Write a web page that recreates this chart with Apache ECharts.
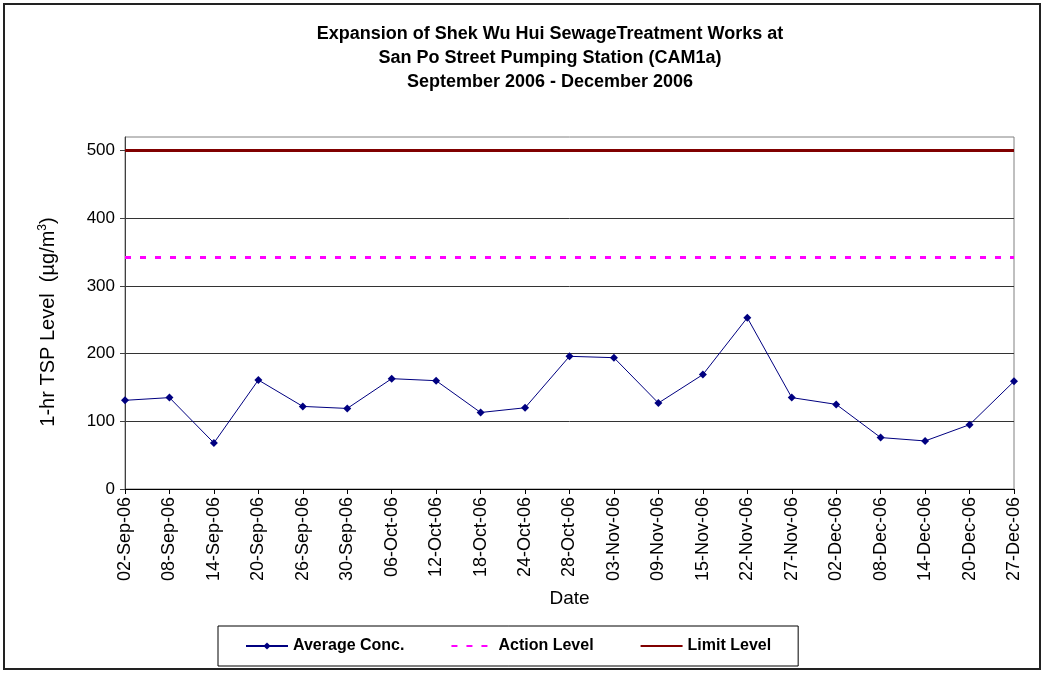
<!DOCTYPE html>
<html>
<head>
<meta charset="utf-8">
<title>CAM1a 1-hr TSP</title>
<script src="https://cdn.jsdelivr.net/npm/echarts@6.0.0/dist/echarts.min.js"></script>
<style>
  html, body { margin: 0; padding: 0; background: #fff; }
  #main { width: 1045px; height: 673px; }
</style>
</head>
<body>
<div id="main"></div>
<script>
// sampling dates
var dates = ['02-Sep-06', '08-Sep-06', '14-Sep-06', '20-Sep-06', '26-Sep-06', '30-Sep-06',
    '06-Oct-06', '12-Oct-06', '18-Oct-06', '24-Oct-06', '28-Oct-06', '03-Nov-06',
    '09-Nov-06', '15-Nov-06', '22-Nov-06', '27-Nov-06', '02-Dec-06', '08-Dec-06',
    '14-Dec-06', '20-Dec-06', '27-Dec-06'];

// 1-hr TSP average (ug/m3)
var averageConc = [131, 135, 68, 161, 122, 119, 163, 160, 113, 120, 196, 194,
    127, 169, 253, 135, 125, 76, 71, 95, 159];

// action / limit levels
var actionLevel = [342, 342, 342, 342, 342, 342, 342, 342, 342, 342, 342, 342,
    342, 342, 342, 342, 342, 342, 342, 342, 342];
var limitLevel = [500, 500, 500, 500, 500, 500, 500, 500, 500, 500, 500, 500,
    500, 500, 500, 500, 500, 500, 500, 500, 500];

var yTicks = [0, 100, 200, 300, 400, 500];

var chart = echarts.init(document.getElementById('main'));
var fontName = 'Liberation Sans, Arial, sans-serif';

var option = {
    animation: false,
    backgroundColor: '#fff',
    textStyle: { fontFamily: fontName },
    title: {
        text: 'Expansion of Shek Wu Hui SewageTreatment Works at\nSan Po Street Pumping Station (CAM1a)\nSeptember 2006 - December 2006',
        left: 545,
        top: 17,
        textAlign: 'center',
        textStyle: {
            fontFamily: fontName,
            fontSize: 18,
            fontWeight: 'bold',
            color: '#000',
            lineHeight: 24
        }
    },
    legend: {
        left: 218,
        top: 626,
        padding: [12, 27, 12, 27],
        itemGap: 46,
        itemWidth: 42,
        itemHeight: 9,
        borderColor: '#000',
        borderWidth: 1,
        textStyle: {
            fontFamily: fontName,
            fontSize: 16,
            fontWeight: 'bold',
            color: '#000'
        },
        data: [
            { name: 'Average Conc.' },
            { name: 'Action Level', itemStyle: { opacity: 0 } },
            { name: 'Limit Level', itemStyle: { opacity: 0 } }
        ]
    },
    grid: {
        left: 125,
        right: 31,
        top: 137,
        bottom: 184,
        show: true,
        borderColor: '#808080',
        borderWidth: 1
    },
    xAxis: {
        type: 'category',
        data: dates,
        boundaryGap: false,
        name: 'Date',
        nameLocation: 'middle',
        nameGap: 98,
        nameTextStyle: { fontFamily: fontName, fontSize: 19, color: '#000' },
        axisLine: { lineStyle: { color: '#000', width: 1 } },
        axisTick: { show: true, alignWithLabel: true, length: 5, lineStyle: { color: '#000' } },
        axisLabel: {
            interval: 0,
            rotate: 90,
            margin: 8,
            fontFamily: fontName,
            fontSize: 18,
            color: '#000'
        },
        splitLine: { show: false }
    },
    yAxis: {
        type: 'value',
        min: 0,
        max: 520,
        interval: 100,
        name: '1-hr TSP Level  (µg/m{sup|3})',
        nameLocation: 'middle',
        nameGap: 66,
        nameTextStyle: {
            fontFamily: fontName,
            fontSize: 20,
            color: '#000',
            padding: [0, 18, 0, 0],
            rich: {
                sup: { fontSize: 12, verticalAlign: 'top', padding: [0, 0, 10, 0], fontFamily: fontName, color: '#000' }
            }
        },
        axisLine: { show: true, lineStyle: { color: '#404040', width: 1 } },
        axisTick: { show: true, length: 5, customValues: yTicks, lineStyle: { color: '#404040' } },
        axisLabel: {
            margin: 10,
            fontFamily: fontName,
            fontSize: 17,
            color: '#000',
            customValues: yTicks
        },
        splitLine: { show: true, lineStyle: { color: '#333', width: 1 } }
    },
    series: [
        {
            name: 'Average Conc.',
            type: 'line',
            data: averageConc,
            symbol: 'diamond',
            symbolSize: 8,
            z: 5,
            lineStyle: { color: '#000080', width: 1 },
            itemStyle: { color: '#000080' }
        },
        {
            name: 'Action Level',
            type: 'line',
            data: actionLevel,
            symbol: 'none',
            lineStyle: { color: '#ff00ff', width: 3, type: [6, 9] },
            itemStyle: { color: '#ff00ff' }
        },
        {
            name: 'Limit Level',
            type: 'line',
            data: limitLevel,
            symbol: 'none',
            lineStyle: { color: '#800000', width: 3 },
            itemStyle: { color: '#800000' }
        }
    ],
    graphic: [
        {
            type: 'rect',
            shape: { x: 4, y: 4, width: 1036, height: 665 },
            style: { fill: 'none', stroke: '#222', lineWidth: 2 },
            silent: true,
            z: -1
        }
    ]
};

chart.setOption(option);
</script>
</body>
</html>
